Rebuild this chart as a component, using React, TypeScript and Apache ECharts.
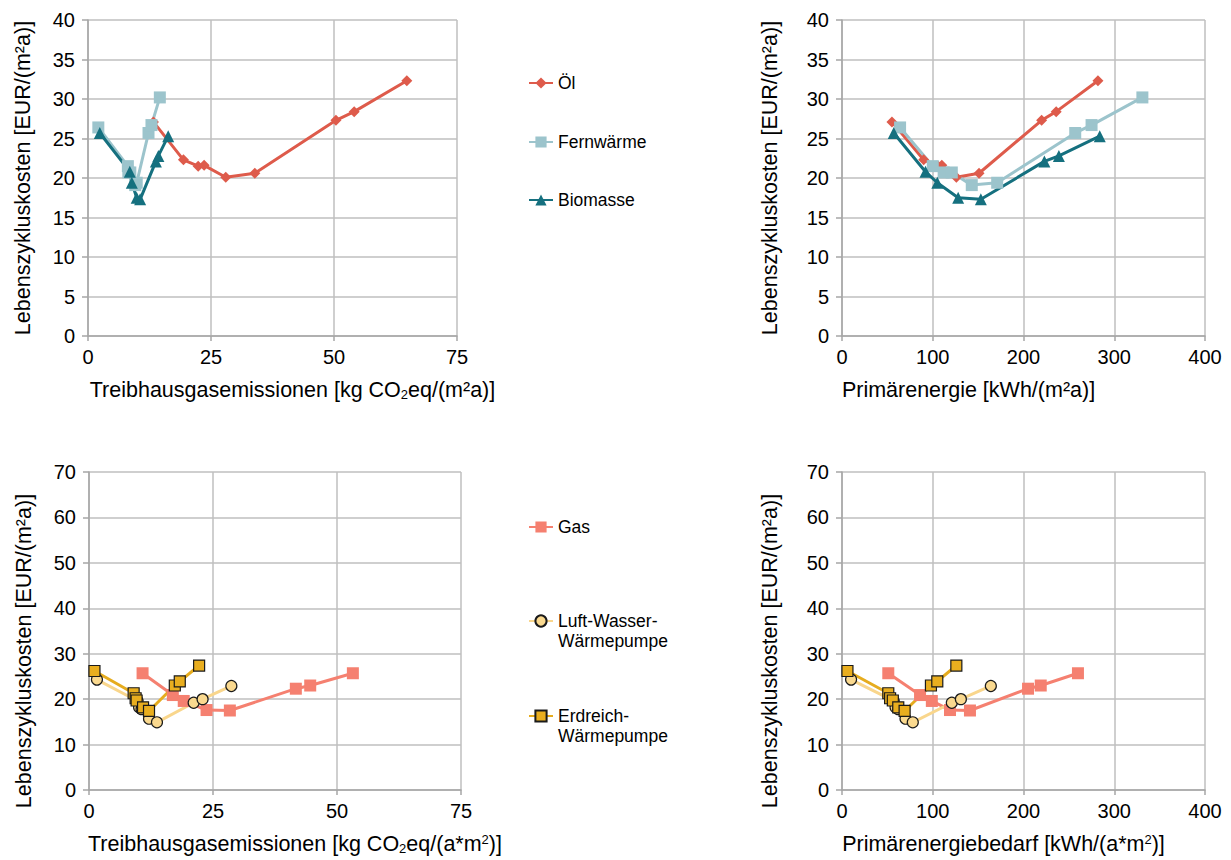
import React, { useEffect, useRef } from "react";
import * as echarts from "echarts";

// Lebenszykluskosten [EUR/(m²a)] per variant, with the two x-measures
const oilLcc = [27.1, 22.3, 21.5, 21.6, 20.1, 20.6, 27.3, 28.4, 32.3];
const oilGhg = [13.3, 19.4, 22.4, 23.6, 28.0, 33.9, 50.4, 54.1, 64.8];
const oilPe = [55, 90, 106, 110, 126, 151, 220, 236, 282];

const fwLcc = [26.4, 21.5, 20.7, 20.7, 19.1, 19.4, 25.7, 26.7, 30.2];
const fwGhg = [2.1, 8.1, 8.2, 8.6, 9.6, 9.9, 12.3, 12.9, 14.6];
const fwPe = [64, 100, 112, 121, 143, 171, 257, 275, 331];

const bioLcc = [25.7, 20.8, 19.4, 17.5, 17.3, 22.1, 22.8, 25.3];
const bioGhg = [2.4, 8.5, 8.9, 9.9, 10.6, 13.8, 14.3, 16.3];
const bioPe = [57, 92, 105, 128, 153, 223, 239, 284];

const gasLcc = [25.7, 20.9, 19.6, 17.6, 17.5, 22.3, 23.0, 25.7];
const gasGhg = [10.8, 16.9, 19.1, 23.7, 28.4, 41.7, 44.6, 53.2];
const gasPe = [51, 86, 99, 119, 141, 205, 219, 260];

const lwLcc = [24.3, 19.6, 18.2, 17.8, 15.7, 14.9, 19.2, 20.0, 22.9];
const lwGhg = [1.6, 9.8, 10.1, 10.6, 12.1, 13.7, 21.1, 22.9, 28.7];
const lwPe = [10, 57, 59, 62, 70, 78, 121, 131, 164];

const ewLcc = [26.2, 21.3, 20.2, 19.7, 18.2, 17.4, 23.0, 23.9, 27.4];
const ewGhg = [1.1, 9.0, 9.4, 9.6, 10.9, 12.1, 17.3, 18.3, 22.2];
const ewPe = [6, 51, 53, 56, 62, 69, 98, 105, 126];

const yName = "Lebenszykluskosten [EUR/(m²a)]";
const xNameTL = "Treibhausgasemissionen [kg CO{sub|2}eq/(m²a)]";
const xNameTR = "Primärenergie [kWh/(m²a)]";
const xNameBL = "Treibhausgasemissionen [kg CO{sub|2}eq/(a*m{sup|2})]";
const xNameBR = "Primärenergiebedarf [kWh/(a*m{sup|2})]";

const FONT = "'Liberation Sans', Arial, sans-serif";
const TITLE_SIZE = 21.5;
const TICK_SIZE = 20;
const LEGEND_SIZE = 17.5;

const zip = (xs: number[], ys: number[]) => xs.map((x, i) => [x, ys[i]]);

const rich = {
  sub: { fontSize: 13, verticalAlign: "bottom", fontFamily: FONT, color: "#000" },
  sup: { fontSize: 13, verticalAlign: "top", fontFamily: FONT, color: "#000" },
};

function xAxis(gridIndex: number, max: number, interval: number, name: string, padding: number[]) {
  return {
    type: "value",
    gridIndex,
    min: 0,
    max,
    interval,
    name,
    nameLocation: "middle",
    nameGap: 43,
    nameTextStyle: { fontSize: TITLE_SIZE, color: "#000", fontFamily: FONT, padding, rich },
    axisLine: { show: true, lineStyle: { color: "#A6A6A6", width: 1.5 } },
    axisTick: { show: true, length: 5, lineStyle: { color: "#A6A6A6", width: 1.5 } },
    axisLabel: { fontSize: TICK_SIZE, color: "#000", fontFamily: FONT, margin: 11 },
    splitLine: { show: true, lineStyle: { color: "#BFBFBF", width: 1.5 } },
  };
}

function yAxis(gridIndex: number, max: number, interval: number, gap: number, padding: number[]) {
  return {
    type: "value",
    gridIndex,
    min: 0,
    max,
    interval,
    name: yName,
    nameLocation: "middle",
    nameGap: gap,
    nameTextStyle: { fontSize: TITLE_SIZE, color: "#000", fontFamily: FONT, padding },
    axisLine: { show: true, lineStyle: { color: "#A6A6A6", width: 1.5 } },
    axisTick: { show: true, length: 6, lineStyle: { color: "#A6A6A6", width: 1.5 } },
    axisLabel: { fontSize: TICK_SIZE, color: "#000", fontFamily: FONT, margin: 13 },
    splitLine: { show: true, lineStyle: { color: "#BFBFBF", width: 1.5 } },
  };
}

type SDef = {
  name: string;
  color: string;
  symbol: string;
  size: number;
  fill?: string;
  border?: boolean;
};

const OIL: SDef = { name: "Öl", color: "#DE5B4B", symbol: "diamond", size: 11 };
const FW: SDef = { name: "Fernwärme", color: "#9CC4CC", symbol: "rect", size: 12 };
const BIO: SDef = { name: "Biomasse", color: "#15707F", symbol: "triangle", size: 12 };
const GAS: SDef = { name: "Gas", color: "#F58070", symbol: "rect", size: 12 };
const LW: SDef = { name: "Luft-Wasser-Wärmepumpe", color: "#F9D68C", symbol: "circle", size: 11, fill: "#FAD98F", border: true };
const EW: SDef = { name: "Erdreich-Wärmepumpe", color: "#E6AC1E", symbol: "rect", size: 11, fill: "#E9AE1F", border: true };

function series(def: SDef, idx: number, data: number[][]) {
  return {
    type: "line",
    name: def.name,
    xAxisIndex: idx,
    yAxisIndex: idx,
    data,
    symbol: def.symbol,
    symbolSize: def.size,
    showAllSymbol: true,
    lineStyle: { color: def.color, width: 3 },
    itemStyle: {
      color: def.fill || def.color,
      borderColor: def.border ? "#1A1A1A" : def.fill || def.color,
      borderWidth: def.border ? 1.2 : 0,
    },
    emphasis: { disabled: true },
  };
}

// legend item: icon centred at y = cy; multi-line labels keep the icon on the first line
function legendItem(name: string, cy: number, lines?: string[]) {
  const label = lines ? "\n" + lines.join("\n") : undefined;
  const nLines = lines ? lines.length + 1 : 1;
  return {
    data: [name],
    left: 528,
    top: cy - (nLines * 20) / 2,
    padding: 0,
    orient: "vertical",
    itemWidth: 24,
    itemHeight: 14,
    selectedMode: false,
    formatter: label ? () => label : undefined,
    textStyle: {
      fontSize: LEGEND_SIZE,
      color: "#000",
      fontFamily: FONT,
      lineHeight: 20,
    },
  };
}

export default function App() {
  const ref = useRef<HTMLDivElement>(null);
  useEffect(() => {
    if (!ref.current) return;
    const chart = echarts.init(ref.current, undefined, { renderer: "svg" });
    chart.setOption({
      animation: false,
      backgroundColor: "#fff",
      textStyle: { fontFamily: FONT },
      grid: [
        { left: 88, top: 20, width: 369, height: 316 },
        { left: 842, top: 20, width: 363, height: 316 },
        { left: 89, top: 472, width: 372, height: 318 },
        { left: 842, top: 472, width: 363, height: 318 },
      ],
      xAxis: [
        xAxis(0, 75, 25, xNameTL, [0, 0, 0, 40]),
        xAxis(1, 400, 100, xNameTR, [0, 110, 0, 0]),
        xAxis(2, 75, 25, xNameBL, [0, 0, 0, 40]),
        xAxis(3, 400, 100, xNameBR, [0, 40, 0, 0]),
      ],
      yAxis: [
        yAxis(0, 40, 5, 54, [0, 0, 0, 0]),
        yAxis(1, 40, 5, 61, [0, 0, 0, 0]),
        yAxis(2, 70, 10, 54, [0, 40, 0, 0]),
        yAxis(3, 70, 10, 61, [0, 40, 0, 0]),
      ],
      legend: [
        legendItem("Öl", 83),
        legendItem("Fernwärme", 142),
        legendItem("Biomasse", 200),
        legendItem("Gas", 527),
        legendItem("Luft-Wasser-Wärmepumpe", 621, ["Luft-Wasser-", "Wärmepumpe"]),
        legendItem("Erdreich-Wärmepumpe", 716, ["Erdreich-", "Wärmepumpe"]),
      ],
      series: [
        series(OIL, 0, zip(oilGhg, oilLcc)),
        series(FW, 0, zip(fwGhg, fwLcc)),
        series(BIO, 0, zip(bioGhg, bioLcc)),
        series(OIL, 1, zip(oilPe, oilLcc)),
        series(FW, 1, zip(fwPe, fwLcc)),
        series(BIO, 1, zip(bioPe, bioLcc)),
        series(GAS, 2, zip(gasGhg, gasLcc)),
        series(LW, 2, zip(lwGhg, lwLcc)),
        series(EW, 2, zip(ewGhg, ewLcc)),
        series(GAS, 3, zip(gasPe, gasLcc)),
        series(LW, 3, zip(lwPe, lwLcc)),
        series(EW, 3, zip(ewPe, ewLcc)),
      ],
    });
    return () => chart.dispose();
  }, []);
  return (
    <div
      ref={ref}
      style={{ position: "fixed", left: 0, top: 0, width: 1231, height: 860, background: "#fff" }}
    />
  );
}
